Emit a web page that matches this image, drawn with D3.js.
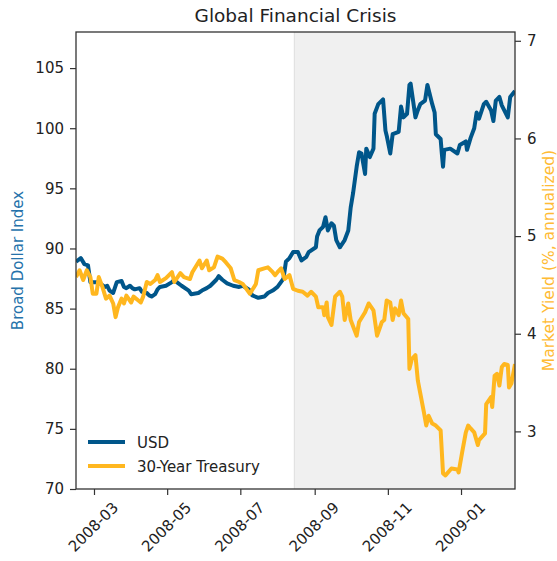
<!DOCTYPE html>
<html>
<head>
<meta charset="utf-8">
<script src="https://cdn.jsdelivr.net/npm/d3@7"></script>
<style>
  body { margin: 0; background: #fff; }
  svg text { font-family: "DejaVu Sans", sans-serif; }
</style>
</head>
<body>
<svg id="chart" width="557" height="561"></svg>
<script>
// Broad Dollar Index (USD)
const usdDates = ["2008-02-15","2008-02-19","2008-02-22","2008-02-25","2008-02-27","2008-03-03","2008-03-06","2008-03-10","2008-03-12","2008-03-14",
  "2008-03-17","2008-03-20","2008-03-24","2008-03-26","2008-03-28","2008-03-31","2008-04-02","2008-04-04","2008-04-08","2008-04-10",
  "2008-04-14","2008-04-16","2008-04-18","2008-04-21","2008-04-23","2008-04-25","2008-04-30","2008-05-05","2008-05-07","2008-05-09",
  "2008-05-13","2008-05-19","2008-05-21","2008-05-27","2008-05-30","2008-06-03","2008-06-06","2008-06-11","2008-06-13","2008-06-16",
  "2008-06-20","2008-06-25","2008-06-30","2008-07-03","2008-07-08","2008-07-11","2008-07-16","2008-07-21","2008-07-24","2008-07-28",
  "2008-08-01","2008-08-06","2008-08-08","2008-08-11","2008-08-14","2008-08-18","2008-08-21","2008-08-25","2008-08-27","2008-09-02",
  "2008-09-03","2008-09-05","2008-09-08","2008-09-10","2008-09-12","2008-09-15","2008-09-17","2008-09-19","2008-09-22","2008-09-26",
  "2008-09-29","2008-10-01","2008-10-03","2008-10-06","2008-10-08","2008-10-10","2008-10-13","2008-10-14","2008-10-17","2008-10-20",
  "2008-10-21","2008-10-24","2008-10-28","2008-10-30","2008-10-31","2008-11-03","2008-11-05","2008-11-10","2008-11-12","2008-11-14",
  "2008-11-17","2008-11-19","2008-11-20","2008-11-24","2008-11-26","2008-11-28","2008-12-02","2008-12-04","2008-12-08","2008-12-10",
  "2008-12-11","2008-12-15","2008-12-16","2008-12-17","2008-12-18","2008-12-23","2008-12-29","2008-12-31","2009-01-05","2009-01-06",
  "2009-01-09","2009-01-12","2009-01-14","2009-01-16","2009-01-20","2009-01-22","2009-01-26","2009-01-28","2009-01-30","2009-02-02",
  "2009-02-04","2009-02-09","2009-02-11","2009-02-15"];
const usdValues = [88.9,89.2,88.7,88.6,87.2,87.2,87.1,86.8,86.9,86.5,
  86.3,87.2,87.3,86.8,86.7,86.9,86.7,86.6,86.7,86.4,
  86.3,86.1,86.0,86.2,86.6,86.8,86.9,87.2,87.4,87.2,
  86.9,86.5,86.2,86.3,86.5,86.7,86.9,87.4,87.7,87.4,
  87.1,86.9,86.8,86.9,86.6,86.1,85.9,86.0,86.3,86.5,
  86.8,87.5,88.9,89.2,89.7,89.7,89.0,89.3,89.7,90.1,
  91.0,91.5,91.8,92.6,91.5,92.1,91.9,90.7,90.1,90.7,
  91.5,93.4,94.6,96.8,98.0,97.9,96.2,98.3,97.6,98.3,
  101.2,102.0,102.4,99.8,99.4,97.9,99.5,99.7,101.8,100.9,
  101.2,103.6,103.7,100.9,101.5,102.0,102.3,103.6,102.0,101.3,
  99.5,99.1,97.9,96.8,98.2,98.3,97.9,98.6,98.9,98.2,
  99.2,100.0,101.3,100.8,102.0,102.2,101.5,100.6,102.3,102.6,
  101.9,100.9,102.6,103.1];

// 30-Year Treasury market yield (%)
const tsyDates = ["2008-02-15","2008-02-18","2008-02-21","2008-02-24","2008-02-27","2008-02-29","2008-03-03","2008-03-05","2008-03-08","2008-03-11",
  "2008-03-14","2008-03-17","2008-03-19","2008-03-21","2008-03-24","2008-03-26","2008-03-28","2008-04-01","2008-04-03","2008-04-07",
  "2008-04-09","2008-04-11","2008-04-14","2008-04-17","2008-04-21","2008-04-23","2008-04-25","2008-04-30","2008-05-05","2008-05-07",
  "2008-05-12","2008-05-15","2008-05-20","2008-05-22","2008-05-28","2008-05-30","2008-06-03","2008-06-05","2008-06-09","2008-06-12",
  "2008-06-16","2008-06-19","2008-06-23","2008-06-26","2008-06-30","2008-07-03","2008-07-09","2008-07-14","2008-07-16","2008-07-21",
  "2008-07-24","2008-07-28","2008-07-30","2008-08-01","2008-08-04","2008-08-07","2008-08-11","2008-08-14","2008-08-18","2008-08-22",
  "2008-08-26","2008-08-29","2008-09-02","2008-09-04","2008-09-08","2008-09-09","2008-09-11","2008-09-12","2008-09-15","2008-09-18",
  "2008-09-22","2008-09-24","2008-09-26","2008-09-29","2008-10-01","2008-10-06","2008-10-08","2008-10-13","2008-10-16","2008-10-20",
  "2008-10-23","2008-10-27","2008-10-29","2008-10-31","2008-11-03","2008-11-05","2008-11-07","2008-11-10","2008-11-12","2008-11-14",
  "2008-11-18","2008-11-19","2008-11-21","2008-11-24","2008-11-26","2008-12-01","2008-12-03","2008-12-05","2008-12-08","2008-12-11",
  "2008-12-15","2008-12-17","2008-12-19","2008-12-24","2008-12-29","2008-12-30","2009-01-02","2009-01-05","2009-01-07","2009-01-09",
  "2009-01-12","2009-01-15","2009-01-16","2009-01-21","2009-01-22","2009-01-26","2009-01-27","2009-01-29","2009-01-31","2009-02-02",
  "2009-02-04","2009-02-06","2009-02-09","2009-02-10","2009-02-12","2009-02-15"];
const tsyValues = [4.58,4.65,4.55,4.65,4.58,4.41,4.41,4.58,4.48,4.36,
  4.39,4.31,4.17,4.27,4.36,4.31,4.39,4.32,4.38,4.34,
  4.32,4.38,4.53,4.51,4.55,4.60,4.53,4.57,4.63,4.53,
  4.62,4.58,4.56,4.63,4.75,4.67,4.75,4.65,4.68,4.79,
  4.77,4.73,4.67,4.55,4.53,4.51,4.41,4.51,4.65,4.67,
  4.68,4.63,4.60,4.63,4.67,4.56,4.60,4.46,4.44,4.43,
  4.39,4.43,4.38,4.27,4.27,4.19,4.32,4.17,4.09,4.38,
  4.43,4.38,4.14,4.31,4.14,3.98,4.12,4.22,4.31,4.24,
  3.98,4.12,4.14,4.34,4.32,4.14,4.26,4.19,4.34,4.21,
  4.15,3.64,3.74,3.78,3.52,3.20,3.06,3.16,3.08,3.06,
  3.01,2.57,2.55,2.62,2.61,2.58,2.79,2.99,3.06,3.03,
  2.99,2.86,2.91,2.98,3.28,3.35,3.25,3.57,3.59,3.47,
  3.66,3.69,3.68,3.45,3.49,3.69];

const xTickLabels = ["2008-03","2008-05","2008-07","2008-09","2008-11","2009-01"];
const leftTicks = [70, 75, 80, 85, 90, 95, 100, 105];
const rightTicks = [3, 4, 5, 6, 7];
const crisisStart = "2008-08-15";

const blue = "#00568a";
const orange = "#ffb71f";

const margin = {top: 32, right: 42, bottom: 72, left: 76};
const width = 557 - margin.left - margin.right;
const height = 561 - margin.top - margin.bottom;

const parseDay = d3.utcParse("%Y-%m-%d");
const parseMonth = d3.utcParse("%Y-%m");

const usd = usdDates.map((d, i) => ({date: parseDay(d), value: usdValues[i]}));
const tsy = tsyDates.map((d, i) => ({date: parseDay(d), value: tsyValues[i]}));

const svg = d3.select("#chart");
const g = svg.append("g").attr("transform", `translate(${margin.left},${margin.top})`);

const x = d3.scaleUtc()
  .domain(d3.extent(usd, d => d.date))
  .range([0, width]);
const yLeft = d3.scaleLinear().domain([70, 108]).range([height, 0]);
const yRight = d3.scaleLinear().domain([2.41, 7.09]).range([height, 0]);

g.append("clipPath").attr("id", "clip")
  .append("rect").attr("width", width).attr("height", height);

// shaded crisis period
const xs = x(parseDay(crisisStart));
g.append("rect")
  .attr("x", xs).attr("y", 0)
  .attr("width", width - xs).attr("height", height)
  .attr("fill", "#f0f0f0");
g.append("line")
  .attr("x1", xs).attr("x2", xs).attr("y1", 0).attr("y2", height)
  .attr("stroke", "#dedede").attr("stroke-width", 1);

const lineUsd = d3.line().x(d => x(d.date)).y(d => yLeft(d.value));
const lineTsy = d3.line().x(d => x(d.date)).y(d => yRight(d.value));

g.append("path").datum(usd)
  .attr("clip-path", "url(#clip)")
  .attr("d", lineUsd)
  .attr("fill", "none").attr("stroke", blue)
  .attr("stroke-width", 4).attr("stroke-linejoin", "round");

g.append("path").datum(tsy)
  .attr("clip-path", "url(#clip)")
  .attr("d", lineTsy)
  .attr("fill", "none").attr("stroke", orange)
  .attr("stroke-width", 4).attr("stroke-linejoin", "round");

// axes
const fontSize = 15;
const xAxis = g.append("g")
  .attr("transform", `translate(0,${height})`)
  .call(d3.axisBottom(x).tickValues(xTickLabels.map(parseMonth)).tickSize(6).tickFormat(d3.utcFormat("%Y-%m")));
xAxis.selectAll("text")
  .attr("y", 0).attr("dy", null)
  .attr("text-anchor", "middle")
  .attr("dominant-baseline", "central")
  .attr("transform", "translate(-1,38) rotate(-45)");

const leftAxis = g.append("g")
  .call(d3.axisLeft(yLeft).tickValues(leftTicks).tickSize(6).tickPadding(6));
const rightAxis = g.append("g")
  .attr("transform", `translate(${width},0)`)
  .call(d3.axisRight(yRight).tickValues(rightTicks).tickSize(6).tickPadding(6).tickFormat(d3.format("d")));

[xAxis, leftAxis, rightAxis].forEach(a => {
  a.select(".domain").remove();
  a.selectAll("line").attr("stroke", "#333").attr("stroke-width", 1.2);
  a.selectAll("text").attr("fill", "#222").style("font-size", fontSize + "px")
    .style("font-family", "'DejaVu Sans', sans-serif");
});

// frame
g.append("rect")
  .attr("width", width).attr("height", height)
  .attr("fill", "none").attr("stroke", "#333").attr("stroke-width", 1.3);

// titles
svg.append("text")
  .attr("x", margin.left + width / 2).attr("y", 22)
  .attr("text-anchor", "middle")
  .style("font-size", "18.5px").attr("fill", "#222")
  .text("Global Financial Crisis");

svg.append("text")
  .attr("transform", `translate(23,${margin.top + height / 2}) rotate(-90)`)
  .attr("text-anchor", "middle")
  .style("font-size", "15px").attr("fill", "#2572aa")
  .text("Broad Dollar Index");

svg.append("text")
  .attr("transform", `translate(554,${margin.top + height / 2}) rotate(-90)`)
  .attr("text-anchor", "middle")
  .style("font-size", "15.5px").attr("fill", "#ffbb33")
  .text("Market Yield (%, annualized)");

// legend
const legendData = [
  {label: "USD", color: blue},
  {label: "30-Year Treasury", color: orange}
];
const legend = g.append("g").attr("transform", `translate(12,${height - 47})`);
legend.selectAll("g")
  .data(legendData)
  .enter()
  .append("g")
  .attr("transform", (d, i) => `translate(0,${i * 24})`)
  .each(function(d) {
    d3.select(this).append("line")
      .attr("x1", 0).attr("x2", 37).attr("y1", 0).attr("y2", 0)
      .attr("stroke", d.color).attr("stroke-width", 4);
    d3.select(this).append("text")
      .attr("x", 49).attr("y", 5.5)
      .style("font-size", "15px").attr("fill", "#222")
      .text(d.label);
  });
</script>
</body>
</html>
